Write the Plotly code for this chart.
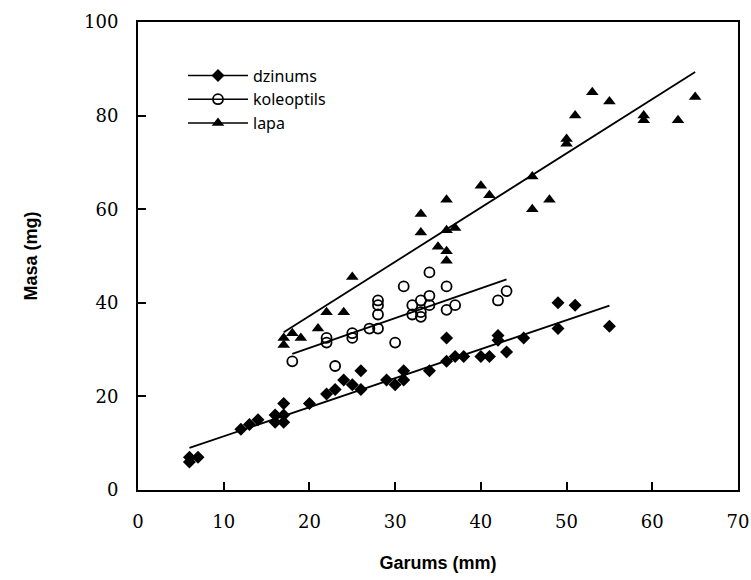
import plotly.graph_objects as go

# Garums (mm) / Masa (mg) measurements per plant part
dzinums_x = [6, 6, 7, 12, 13, 14, 16, 16, 17, 17, 17, 20, 22, 23, 24, 25, 26, 26,
             29, 30, 31, 31, 34, 36, 36, 37, 38, 40, 41, 42, 42, 43, 45, 49, 49, 51, 55]
dzinums_y = [6, 7, 7, 13, 14, 15, 14.5, 16, 14.5, 16, 18.5, 18.5, 20.5, 21.5, 23.5, 22.5, 25.5, 21.5,
             23.5, 22.5, 25.5, 23.5, 25.5, 32.5, 27.5, 28.5, 28.5, 28.5, 28.5, 33, 32, 29.5, 32.5, 34.5, 40, 39.5, 35]

koleoptils_x = [18, 22, 22, 23, 25, 25, 27, 28, 28, 28, 28, 30, 31, 32, 32, 33, 33, 33,
                34, 34, 34, 36, 36, 37, 42, 43]
koleoptils_y = [27.5, 32.5, 31.5, 26.5, 33.5, 32.5, 34.5, 34.5, 37.5, 39.5, 40.5, 31.5, 43.5, 39.5, 37.5, 40.5, 38, 37,
                41.5, 39.5, 46.5, 43.5, 38.5, 39.5, 40.5, 42.5]

lapa_x = [17, 17, 18, 19, 21, 22, 24, 25, 33, 33, 35, 36, 36, 36, 36, 37, 40, 41,
          46, 46, 48, 50, 50, 51, 53, 55, 59, 59, 63, 65]
lapa_y = [31, 32.5, 33.5, 32.5, 34.5, 38, 38, 45.5, 55, 59, 52, 49, 51, 55.5, 62, 56, 65, 63,
          67, 60, 62, 75, 74, 80, 85, 83, 80, 79, 79, 84]

# Linear trend lines (end points)
dzinums_fit_x = [6, 55]
dzinums_fit_y = [9.0, 39.4]
koleoptils_fit_x = [18, 43]
koleoptils_fit_y = [29.1, 45.0]
lapa_fit_x = [17, 65]
lapa_fit_y = [33.7, 89.3]

x_ticks = [0, 10, 20, 30, 40, 50, 60, 70]
y_ticks = [0, 20, 40, 60, 80, 100]

series = [
    ("dzinums", dzinums_x, dzinums_y, dzinums_fit_x, dzinums_fit_y,
     dict(symbol="diamond", size=10, color="black")),
    ("koleoptils", koleoptils_x, koleoptils_y, koleoptils_fit_x, koleoptils_fit_y,
     dict(symbol="circle-open", size=10, color="black", line=dict(width=1.8, color="black"))),
    ("lapa", lapa_x, lapa_y, lapa_fit_x, lapa_fit_y,
     dict(symbol="triangle-up", size=11, color="black")),
]

fig = go.Figure()
for name, xs, ys, fx, fy, mk in series:
    fig.add_trace(go.Scatter(x=fx, y=fy, mode="lines", showlegend=False,
                             line=dict(color="black", width=1.8)))
    fig.add_trace(go.Scatter(x=xs, y=ys, mode="markers", showlegend=False, marker=mk))
    # legend entry: line with marker
    fig.add_trace(go.Scatter(x=[None], y=[None], mode="lines+markers", name=name,
                             line=dict(color="black", width=1.5), marker=mk))

fig.update_layout(
    width=751, height=580,
    margin=dict(l=138, r=13, t=22, b=90),
    paper_bgcolor="white", plot_bgcolor="white",
    showlegend=True,
    legend=dict(x=0.075, y=0.922, xanchor="left", yanchor="top",
                bgcolor="rgba(0,0,0,0)", borderwidth=0, tracegroupgap=0,
                itemwidth=60,
                font=dict(family="Noto Sans", size=16, color="black")),
    xaxis=dict(range=[0, 70], tickvals=x_ticks, ticks="inside", ticklen=8, tickwidth=1.5,
               tickcolor="black", showline=True, mirror=True, linecolor="black", linewidth=2,
               showgrid=False, zeroline=False, ticklabelstandoff=14, automargin=False,
               tickfont=dict(family="DejaVu Serif", size=18, color="black"),
               title=dict(text="Garums (mm)", standoff=26,
                          font=dict(family="Liberation Sans", size=18, color="black", weight="bold"))),
    yaxis=dict(range=[0, 100], tickvals=y_ticks, ticks="inside", ticklen=8, tickwidth=1.5,
               tickcolor="black", showline=True, mirror=True, linecolor="black", linewidth=2,
               showgrid=False, zeroline=False, ticklabelstandoff=14, automargin=False,
               tickfont=dict(family="DejaVu Serif", size=18, color="black"),
               title=dict(text="Masa (mg)", standoff=42,
                          font=dict(family="Liberation Sans", size=18, color="black", weight="bold"))),
)

fig.write_html("out.html")
